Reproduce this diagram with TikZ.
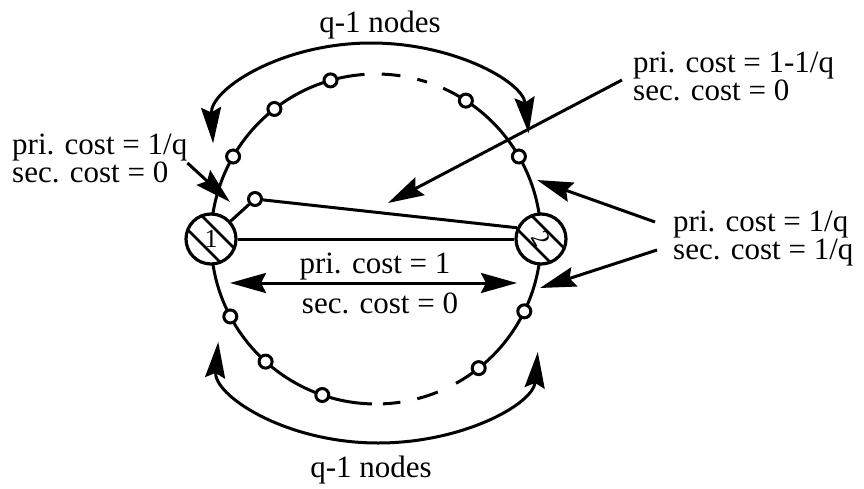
\documentclass[tikz,border=0pt]{standalone}
\usepackage{fontspec}
\setmainfont{Liberation Serif}
\usepackage{graphicx}
\usetikzlibrary{arrows.meta}

\begin{document}
\begin{tikzpicture}[x=1pt, y=1pt,
    >={Stealth[length=36pt, width=20pt, inset=5pt]},
    every node/.style={font=\fontsize{31}{28}\selectfont},
    relay/.style={draw, circle, line width=3pt, fill=white, minimum size=13pt, inner sep=0pt},
    hub/.style={draw, circle, line width=3.2pt, fill=white, minimum size=50pt, inner sep=0pt,
        font=\fontsize{26}{26}\selectfont,
        path picture={\foreach \s in {-1,1}
            \draw[line width=2.6pt] ([shift={(\s*7pt-30pt,\s*7pt+30pt)}]path picture bounding box.center) -- ++(60pt,-60pt);}},
    note/.style={align=left, inner sep=0pt},
    pointer/.style={->, line width=3pt}]
  \useasboundingbox (0,0) rectangle (864,488);

  % the ring through both end nodes
  \coordinate (ring) at (376,249);
  \begin{scope}[line width=3pt]
    \draw ([shift={(94:165)}]ring) arc[start angle=94, end angle=268.6, radius=165];
    \draw ([shift={(299:165)}]ring) arc[start angle=299, end angle=426, radius=165];
    \draw ([shift={(88:165)}]ring) arc[start angle=88, end angle=81.5, radius=165];
    \draw ([shift={(75.5:165)}]ring) arc[start angle=75.5, end angle=72, radius=165];
    \draw ([shift={(272.4:165)}]ring) arc[start angle=272.4, end angle=278.5, radius=165];
    \draw ([shift={(284.5:165)}]ring) arc[start angle=284.5, end angle=292, radius=165];
  \end{scope}

  \node[hub] (n1) at ([shift={(180:165)}]ring) {1};
  \node[hub] (n2) at ([shift={(0:165)}]ring) {\rotatebox{-60}{2}};
  \foreach \a [count=\i] in {150,128,106,57,30}
    \node[relay] (up\i) at ([shift={(\a:165)}]ring) {};
  \foreach \a [count=\i] in {208,228,251,308.5,334}
    \node[relay] (lo\i) at ([shift={(\a:165)}]ring) {};
  \node[relay] (mid) at (255,289) {};

  \draw[line width=3pt] (n1) -- (mid);
  \draw[line width=3pt] (mid) -- (n2.155);
  \draw[line width=3pt] (n1) -- (n2);

  % q-1 nodes above and below
  \node[anchor=base] (topnote) at (380,455) {q-1 nodes};
  \coordinate (topL) at ([shift={(182:158 and 97)}]371,348);
  \draw[<->, line width=3pt] (topL) arc[start angle=182, end angle=4, x radius=158, y radius=97];
  \node[anchor=base] (botnote) at (371,11) {q-1 nodes};
  \coordinate (botL) at ([shift={(177:160 and 96)}]378,141);
  \draw[<->, line width=3pt] (botL) arc[start angle=177, end angle=357, x radius=160, y radius=96];

  % direct link
  \coordinate (spanL) at (230,205);
  \coordinate (spanR) at (517,205);
  \draw[<->, line width=3pt] (spanL) -- (spanR);
  \node[anchor=base] (priOne) at (375,215) {pri. cost = 1};
  \node[anchor=base] (secZero) at (380,175) {sec. cost = 0};

  % cost notes
  \node[note, anchor=west] (costA) at (12,330) {pri. cost = 1/q\\sec. cost = 0};
  \coordinate (hitA) at (230,286);
  \draw[pointer] ([yshift=-5pt]costA.east) -- (hitA);

  \node[note, anchor=west] (costB) at (633,412) {pri. cost = 1-1/q\\sec. cost = 0};
  \coordinate (hitB) at (388,285);
  \draw[pointer] ([xshift=-11pt, yshift=-4pt]costB.west) -- (hitB);

  \node[note, anchor=west] (costC) at (673,249) {pri. cost = 1/q\\sec. cost = 1/q};
  \coordinate (hitC) at (537,308);
  \coordinate (hitD) at (540,200);
  \draw[pointer] ([xshift=-18pt, yshift=17pt]costC.west) -- (hitC);
  \draw[pointer] ([xshift=-16pt, yshift=-11pt]costC.west) -- (hitD);
\end{tikzpicture}
\end{document}
